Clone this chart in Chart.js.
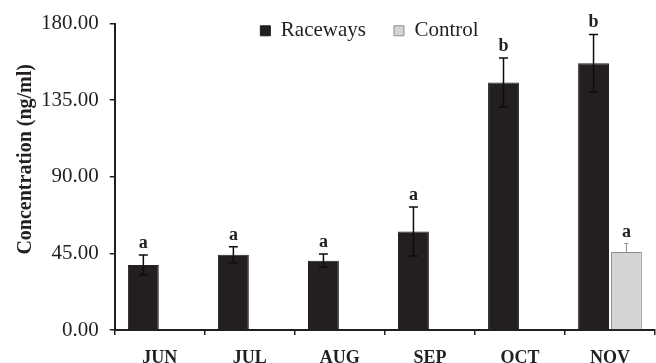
<!DOCTYPE html>
<html>
<head>
<meta charset="utf-8">
<script src="https://cdn.jsdelivr.net/npm/chart.js@4.4.0/dist/chart.umd.min.js"></script>
<style>
  html, body { margin: 0; padding: 0; background: #ffffff; }
  canvas { display: block; }
</style>
</head>
<body>
<canvas id="chart" width="656" height="363"></canvas>
<script>
// Monthly concentration (ng/ml), mean and standard error
const months = ['JUN', 'JUL', 'AUG', 'SEP', 'OCT', 'NOV'];
const racewaysMean = [38.2, 44.2, 40.7, 57.8, 145.4, 156.7];
const racewaysErr = [5.8, 4.7, 3.9, 14.4, 14.4, 16.9];
const racewaysGroups = ['a', 'a', 'a', 'a', 'b', 'b'];
const controlMean = [null, null, null, null, null, 45.8];
const controlErr = [null, null, null, null, null, 5.0];
const controlGroups = [null, null, null, null, null, 'a'];
const yMin = 0, yMax = 180, yStep = 45;

const INK = '#231f20';
const SERIF = "'Liberation Serif', 'Times New Roman', serif";

Chart.defaults.font.family = SERIF;
Chart.defaults.color = INK;

// Whiskers (mean ± error) and significance letters above each bar
const errorBars = {
  id: 'errorBars',
  afterDatasetsDraw(chart) {
    const ctx = chart.ctx;
    const yScale = chart.scales.y;
    chart.data.datasets.forEach((ds, di) => {
      const meta = chart.getDatasetMeta(di);
      meta.data.forEach((bar, i) => {
        const v = ds.data[i];
        if (v == null) return;
        const e = ds.errors[i] || 0;
        const x = bar.x;
        const yTop = yScale.getPixelForValue(v + e);
        const yBot = yScale.getPixelForValue(ds.lowerWhisker ? v - e : v);
        const cap = ds.capWidth / 2;
        ctx.save();
        ctx.strokeStyle = ds.whiskerColor;
        ctx.lineWidth = ds.whiskerWidth;
        ctx.beginPath();
        ctx.moveTo(x, yBot);
        ctx.lineTo(x, yTop);
        ctx.moveTo(x - cap, yTop);
        ctx.lineTo(x + cap, yTop);
        if (ds.lowerWhisker) {
          ctx.moveTo(x - cap, yBot);
          ctx.lineTo(x + cap, yBot);
        }
        ctx.stroke();
        const g = ds.groups[i];
        if (g) {
          ctx.fillStyle = INK;
          ctx.font = 'bold 18px ' + SERIF;
          ctx.textAlign = 'center';
          ctx.textBaseline = 'alphabetic';
          ctx.fillText(g, x, yTop - 7);
        }
        ctx.restore();
      });
    });
  }
};

// Moves the legend down into the plot, right of centre
const legendPlacement = {
  id: 'legendPlacement',
  afterLayout(chart) {
    const lg = chart.legend;
    if (!lg) return;
    const dx = 37, dy = 27.7;
    lg.left += dx; lg.right += dx;
    lg.top += dy; lg.bottom += dy;
  }
};

new Chart(document.getElementById('chart'), {
  type: 'bar',
  data: {
    labels: months,
    datasets: [
      {
        label: 'Raceways',
        data: racewaysMean,
        errors: racewaysErr,
        groups: racewaysGroups,
        lowerWhisker: true,
        whiskerColor: '#0d0d0d',
        whiskerWidth: 1.5,
        capWidth: 9,
        backgroundColor: INK,
        borderColor: INK,
        borderWidth: 1,
        categoryPercentage: 0.73,
        barPercentage: 0.94
      },
      {
        label: 'Control',
        data: controlMean,
        errors: controlErr,
        groups: controlGroups,
        lowerWhisker: false,
        whiskerColor: '#8a8a8a',
        whiskerWidth: 1,
        capWidth: 4,
        backgroundColor: '#d4d4d4',
        borderColor: '#8c8c8c',
        borderWidth: 1,
        categoryPercentage: 0.73,
        barPercentage: 0.94
      }
    ]
  },
  options: {
    responsive: false,
    animation: false,
    layout: { padding: { left: 10, right: 1, top: -38.5, bottom: 0 } },
    plugins: {
      legend: {
        position: 'top',
        align: 'center',
        labels: {
          boxWidth: 10,
          boxHeight: 10,
          padding: 28,
          color: INK,
          font: { family: SERIF, size: 21 }
        }
      },
      tooltip: { enabled: false }
    },
    scales: {
      x: {
        offset: true,
        border: { color: INK, width: 2 },
        grid: {
          offset: true,
          drawOnChartArea: false,
          drawTicks: true,
          tickLength: 5,
          color: INK,
          lineWidth: 1.5
        },
        ticks: {
          padding: 17,
          color: INK,
          font: { family: SERIF, size: 18, weight: 'bold', lineHeight: '12px' }
        },
        afterFit(scale) { scale.height -= 18; }
      },
      y: {
        min: yMin,
        max: yMax,
        border: { color: INK, width: 2 },
        grid: {
          drawOnChartArea: false,
          drawTicks: true,
          tickLength: 5,
          color: INK,
          lineWidth: 1.5
        },
        ticks: {
          stepSize: yStep,
          padding: 11,
          color: INK,
          font: { family: SERIF, size: 21 },
          callback: (v) => Number(v).toFixed(2)
        },
        title: {
          display: true,
          // leading no-break spaces lift the rotated title a little above the axis centre
          text: '\u00a0\u00a0\u00a0\u00a0\u00a0\u00a0\u00a0Concentration (ng/ml)',
          color: INK,
          padding: { top: 4, bottom: 4 },
          font: { family: SERIF, size: 20, weight: 'bold' }
        },
        afterFit(scale) { scale.width -= 12; }
      }
    }
  },
  plugins: [errorBars, legendPlacement]
});
</script>
</body>
</html>
